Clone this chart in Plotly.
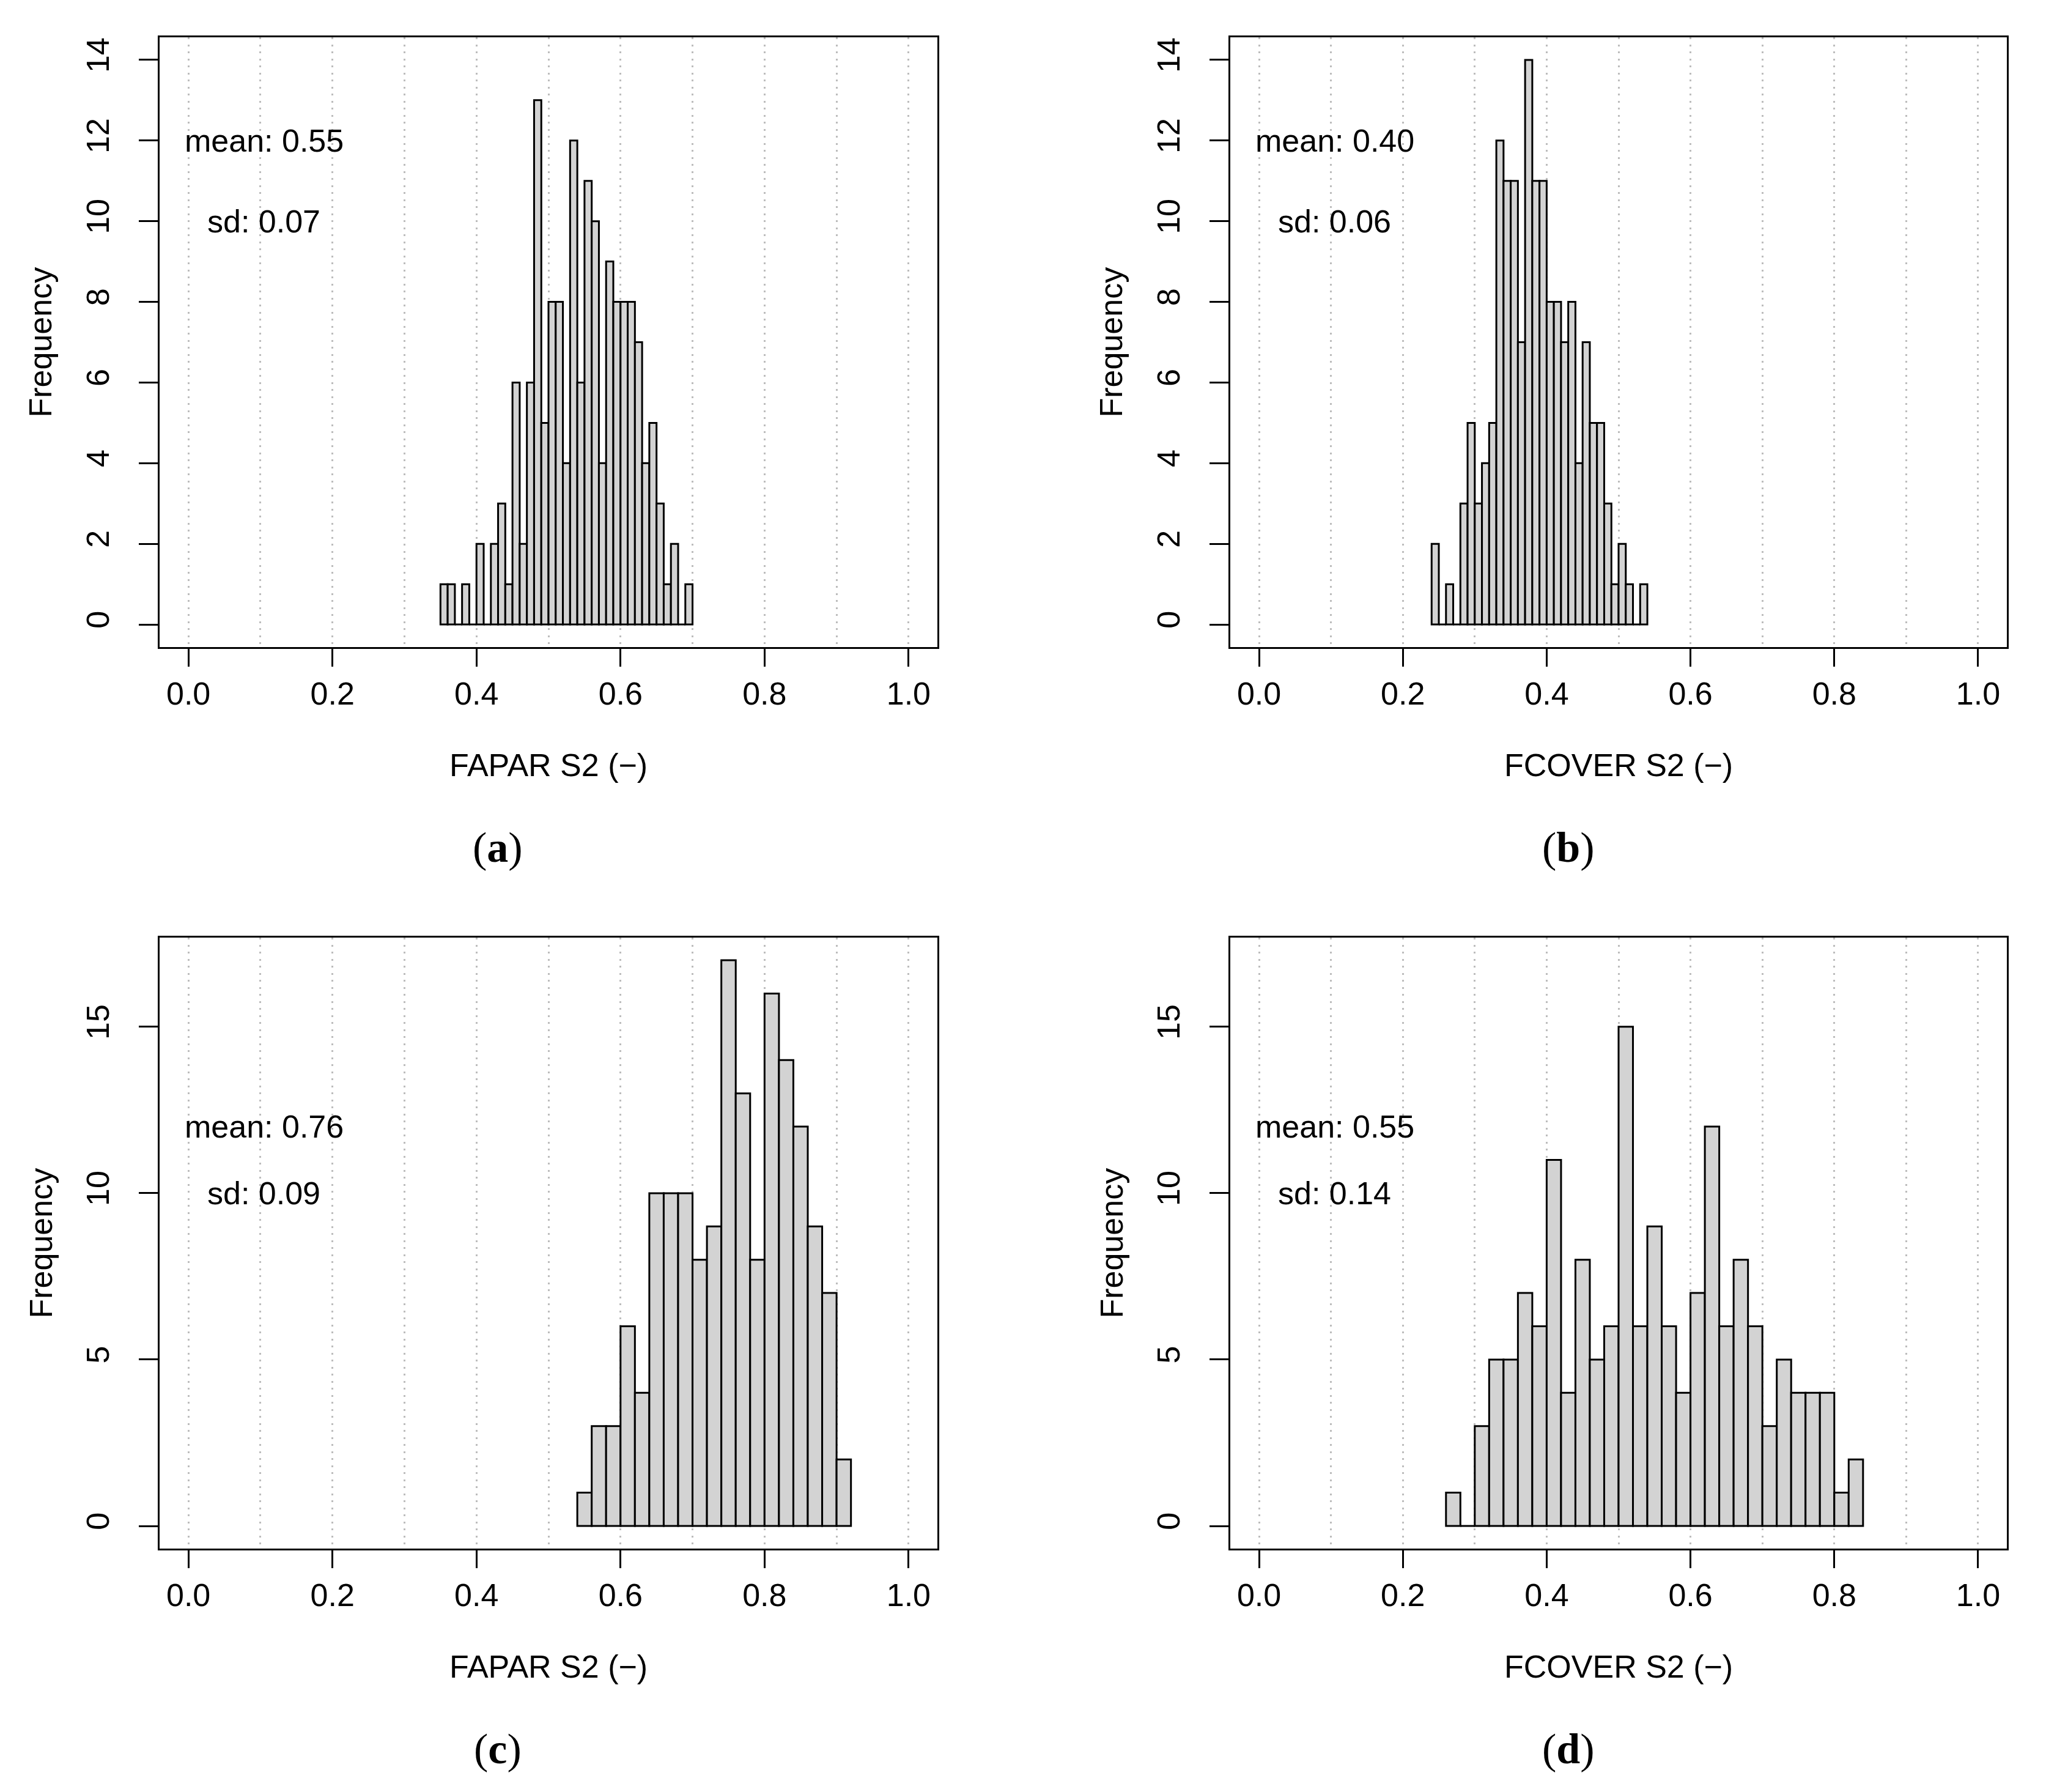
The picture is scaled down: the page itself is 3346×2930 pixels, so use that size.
import numpy as np
import plotly.graph_objects as go

# ---------------- data ----------------
a_start, a_width = 0.35, 0.01
a_counts = [1, 1, 0, 1, 0, 2, 0, 2, 3, 1, 6, 2, 6, 13, 5, 8, 8, 4, 12, 6,
            11, 10, 4, 9, 8, 8, 8, 7, 4, 5, 3, 1, 2, 0, 1]
b_start, b_width = 0.24, 0.01
b_counts = [2, 0, 1, 0, 3, 5, 3, 4, 5, 12, 11, 11, 7, 14, 11, 11, 8, 8, 7, 8,
            4, 7, 5, 5, 3, 1, 2, 1, 0, 1]
c_start, c_width = 0.54, 0.02
c_counts = [1, 3, 3, 6, 4, 10, 10, 10, 8, 9, 17, 13, 8, 16, 14, 12, 9, 7, 2]
d_start, d_width = 0.26, 0.02
d_counts = [1, 0, 3, 5, 5, 7, 6, 11, 4, 8, 5, 6, 15, 6, 9, 6, 4, 7, 12, 6,
            8, 6, 3, 5, 4, 4, 4, 1, 2]

x_titles = ["FAPAR S2 (\u2212)", "FCOVER S2 (\u2212)", "FAPAR S2 (\u2212)", "FCOVER S2 (\u2212)"]
mean_labels = ["mean: 0.55", "mean: 0.40", "mean: 0.76", "mean: 0.55"]
sd_labels = ["sd: 0.07", "sd: 0.06", "sd: 0.09", "sd: 0.14"]
panel_labels = ["a", "b", "c", "d"]
x_ticks = [0.0, 0.2, 0.4, 0.6, 0.8, 1.0]
y_ticks_top = [0, 2, 4, 6, 8, 10, 12, 14]
y_ticks_bottom = [0, 5, 10, 15]
y_max_top = 14
y_max_bottom = 17

# ---------------- layout geometry ----------------
W, H = 3346, 2930
col_px = [(261, 1533), (2012, 3282)]
row_px = [(61, 1058), (1533, 2532)]
FONT = "Liberation Sans, Arial, Helvetica, sans-serif"
FS = 52
LW = 3
GRID = "#BDBDBD"


def px_x(v):
    return v / W


def px_y(v):
    return 1 - v / H


panels = [
    (a_start, a_width, a_counts, 0, 0, y_ticks_top, y_max_top),
    (b_start, b_width, b_counts, 0, 1, y_ticks_top, y_max_top),
    (c_start, c_width, c_counts, 1, 0, y_ticks_bottom, y_max_bottom),
    (d_start, d_width, d_counts, 1, 1, y_ticks_bottom, y_max_bottom),
]

fig = go.Figure()
annotations = []
layout = {}

for i, (start, width, counts, r, c, yt, ymax) in enumerate(panels):
    k = "" if i == 0 else str(i + 1)
    counts = np.array(counts)
    centers = start + width * (np.arange(len(counts)) + 0.5)
    fig.add_trace(go.Bar(
        x=centers, y=counts, width=width,
        marker=dict(color="#D3D3D3", line=dict(color="black", width=LW)),
        xaxis="x" + k, yaxis="y" + k, showlegend=False,
        hoverinfo="x+y",
    ))
    x0, x1 = col_px[c]
    y0, y1 = row_px[r]
    layout["xaxis" + k] = dict(
        domain=[px_x(x0), px_x(x1)], anchor="y" + k,
        range=[-0.04, 1.04], tickmode="array", tickvals=x_ticks,
        ticktext=["%.1f" % v for v in x_ticks],
        ticks="outside", ticklen=29, tickwidth=LW, tickcolor="black",
        showline=True, linecolor="black", linewidth=LW, mirror=True,
        showgrid=True, gridcolor=GRID, gridwidth=3, griddash="3px,8.5px",
        minor=dict(dtick=0.1, tick0=0, showgrid=True, gridcolor=GRID,
                   gridwidth=3, griddash="3px,8.5px", ticks=""),
        zeroline=False, ticklabelstandoff=0,
        tickfont=dict(family=FONT, size=FS, color="black"),
    )
    pad = 0.04 * ymax
    layout["yaxis" + k] = dict(
        domain=[px_y(y1), px_y(y0)], anchor="x" + k,
        range=[-pad, ymax + pad], tickmode="array", tickvals=yt,
        ticks="outside", ticklen=31, tickwidth=LW, tickcolor="black",
        showline=True, linecolor="black", linewidth=LW, mirror=True,
        showgrid=False, zeroline=False, tickangle=-90, ticklabelstandoff=28,
        tickfont=dict(family=FONT, size=FS, color="black"),
    )
    # stats text
    for txt, yv in ((mean_labels[i], 12), (sd_labels[i], 10)):
        annotations.append(dict(
            x=0.105, y=yv, xref="x" + k, yref="y" + k, text=txt,
            showarrow=False, xanchor="center", yanchor="middle",
            font=dict(family=FONT, size=FS, color="black"),
        ))
    # x axis title
    annotations.append(dict(
        x=px_x((x0 + x1) / 2), y=px_y(y1 + 193), xref="paper", yref="paper",
        text=x_titles[i], showarrow=False, xanchor="center", yanchor="middle",
        font=dict(family=FONT, size=FS, color="black"),
    ))
    # y axis title
    annotations.append(dict(
        x=px_x(x0 - 195), y=px_y((y0 + y1) / 2), xref="paper", yref="paper",
        text="Frequency", textangle=-90, showarrow=False,
        xanchor="center", yanchor="middle",
        font=dict(family=FONT, size=FS, color="black"),
    ))
    # panel label
    annotations.append(dict(
        x=px_x(x0 + 553), y=px_y(y1 + 327), xref="paper", yref="paper",
        text="(<b>%s</b>)" % panel_labels[i], showarrow=False,
        xanchor="center", yanchor="middle",
        font=dict(family="Liberation Serif, Times New Roman, serif", size=70, color="black"),
    ))

fig.update_layout(
    width=W, height=H, margin=dict(l=0, r=0, t=0, b=0),
    paper_bgcolor="white", plot_bgcolor="white",
    annotations=annotations, **layout,
)

fig.write_html("out.html", config={"displayModeBar": False},
               post_script="document.body.style.margin='0';document.body.style.padding='0';")
